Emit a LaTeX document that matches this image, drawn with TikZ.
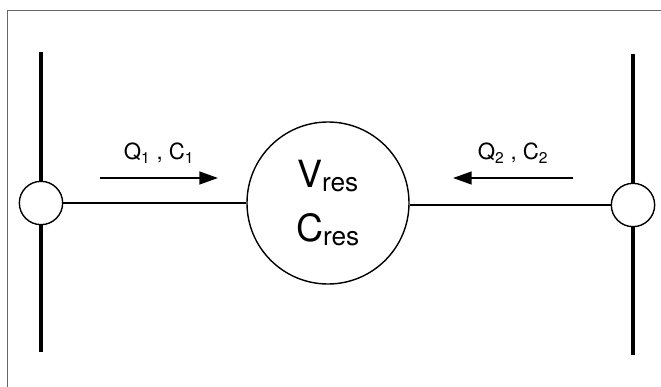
\documentclass[tikz,border=0pt]{standalone}
\usepackage{fontspec}
\setmainfont{TeX Gyre Heros}
\usetikzlibrary{arrows.meta}

\begin{document}
\begin{tikzpicture}[
  x=0.03cm, y=-0.03cm,
  bus/.style={line width=3.4pt},
  junc/.style={circle,draw,line width=1.2pt,fill=white,minimum size=1.3cm,inner sep=0pt},
  res/.style={circle,draw,line width=1.2pt,fill=white,minimum size=4.86cm,inner sep=0pt,
              align=center,font=\fontsize{32}{46}\selectfont},
  pipe/.style={line width=1.6pt},
  flow/.style={-{Triangle[length=16pt,width=11pt]},line width=1.6pt},
  lbl/.style={font=\fontsize{19}{21}\selectfont},
  frame/.style={draw=black!60,line width=0.6pt}
]
\useasboundingbox (0,0) rectangle (661,387);
\draw[frame] (661,10) -| (7,387);

% the two feeding branches and the reservoir
\node[junc] (j1) at (41,203) {};
\node[junc] (j2) at (633,205) {};
\node[res] (r) at (328,203) {V\textsubscript{res}\\C\textsubscript{res}};

\coordinate (t1) at (41,52);
\coordinate (b1) at (41,352);
\coordinate (t2) at (633,54);
\coordinate (b2) at (633,355);
\draw[bus] (t1) -- (j1.north);
\draw[bus] (j1.south) -- (b1);
\draw[bus] (t2) -- (j2.north);
\draw[bus] (j2.south) -- (b2);

\draw[pipe] (j1) -- (r);
\draw[pipe] (j2.west) -- (r.east |- j2.west);

% inflows
\coordinate (f1s) at (100,178);
\coordinate (f1e) at (218,178);
\coordinate (f2s) at (573,178);
\coordinate (f2e) at (453,178);
\draw[flow] (f1s) -- node[lbl,above=8pt]{Q\textsubscript{1} , C\textsubscript{1}} (f1e);
\draw[flow] (f2s) -- node[lbl,above=8pt]{Q\textsubscript{2} , C\textsubscript{2}} (f2e);
\end{tikzpicture}
\end{document}
